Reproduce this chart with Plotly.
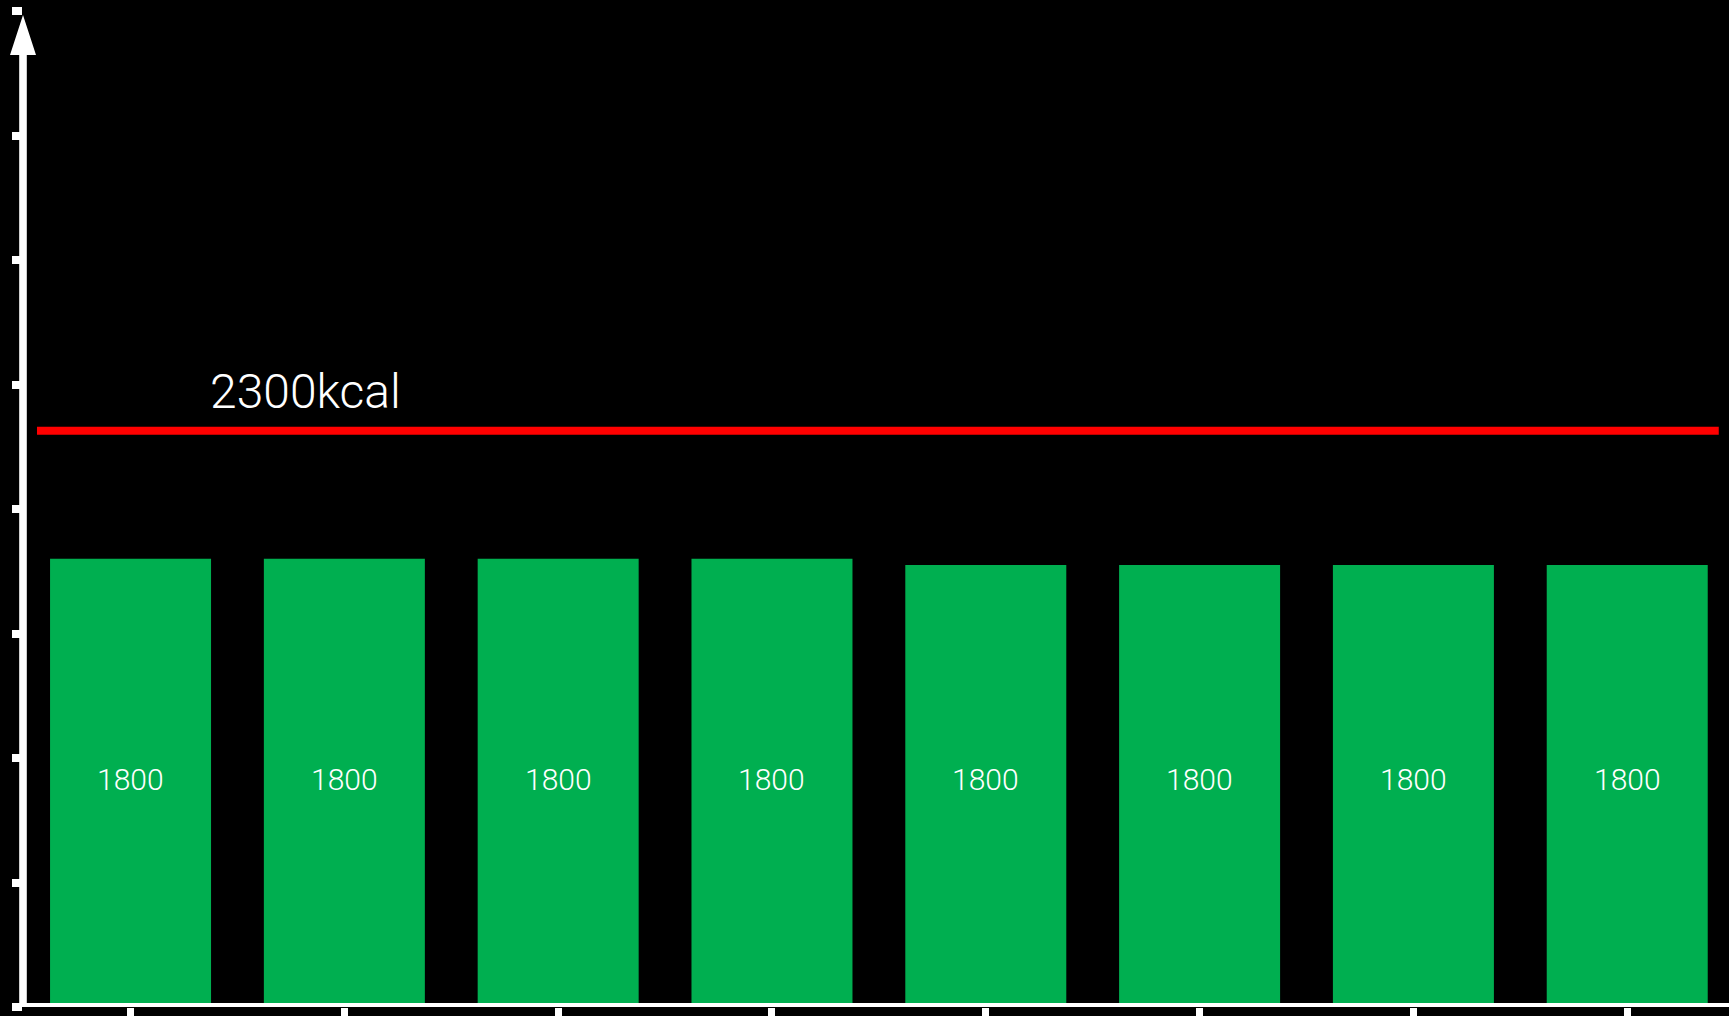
import plotly.graph_objects as go

# ---- data ----
categories = ["Day 1", "Day 2", "Day 3", "Day 4", "Day 5", "Day 6", "Day 7", "Day 8"]
intake_kcal = [1800, 1800, 1800, 1800, 1775, 1775, 1775, 1775]
bar_labels = ["1800", "1800", "1800", "1800", "1800", "1800", "1800", "1800"]
target_kcal = 2315          # position
target_label = "2300kcal"
y_tick_values = [0, 500, 1000, 1500, 2000, 2500, 3000, 3500, 4000]

FONT = "Roboto, 'Helvetica Neue', Helvetica, Arial, sans-serif"

fig = go.Figure()
fig.add_trace(go.Bar(
    x=categories,
    y=intake_kcal,
    marker=dict(color="#00AF50", line=dict(width=0)),
    hoverinfo="skip",
))

# bar value labels, centred on the labelled value
for cat, lab in zip(categories, bar_labels):
    fig.add_annotation(x=cat, y=float(lab) / 2, yshift=3, text=lab,
                       showarrow=False, xanchor="center", yanchor="middle",
                       font=dict(color="white", size=30, family=FONT, weight=300))

# target line
fig.add_shape(type="line", xref="paper", yref="y",
              x0=0.0082, x1=0.994, y0=target_kcal, y1=target_kcal,
              line=dict(color="#FF0000", width=8), layer="above")
fig.add_annotation(xref="paper", yref="y", x=0.1653, y=target_kcal,
                   yshift=39, text=target_label, showarrow=False,
                   xanchor="center", yanchor="middle",
                   font=dict(color="white", size=48, family=FONT, weight=300))

# x axis line
fig.add_shape(type="line", xref="paper", yref="y", x0=0, x1=1, y0=0, y1=0,
              line=dict(color="white", width=8), layer="above")
# y axis line with arrow head (pixel-sized path anchored at the origin)
fig.add_shape(type="path", xref="paper", yref="y",
              xsizemode="pixel", ysizemode="pixel", xanchor=0, yanchor=0,
              path="M -3.8,-4 L 3.8,-4 L 3.8,952 L 13,952 L 0,992 L -13,952 L -3.8,952 Z",
              fillcolor="white", line=dict(width=0), layer="above")

fig.update_layout(
    width=1729, height=1016, autosize=False,
    margin=dict(l=23, r=0, t=11, b=9, pad=0),
    paper_bgcolor="black", plot_bgcolor="black",
    bargap=0.247, showlegend=False,
    xaxis=dict(range=[-0.503, 7.476], showgrid=False, zeroline=False,
               showline=False, showticklabels=False,
               ticks="outside", ticklen=9, tickwidth=7, tickcolor="white"),
    yaxis=dict(range=[0, 4000.5], showgrid=False, zeroline=False,
               showline=False, showticklabels=False,
               tickmode="array", tickvals=y_tick_values,
               ticks="outside", ticklen=10, tickwidth=7.5, tickcolor="white"),
)

fig.write_html("out.html")
